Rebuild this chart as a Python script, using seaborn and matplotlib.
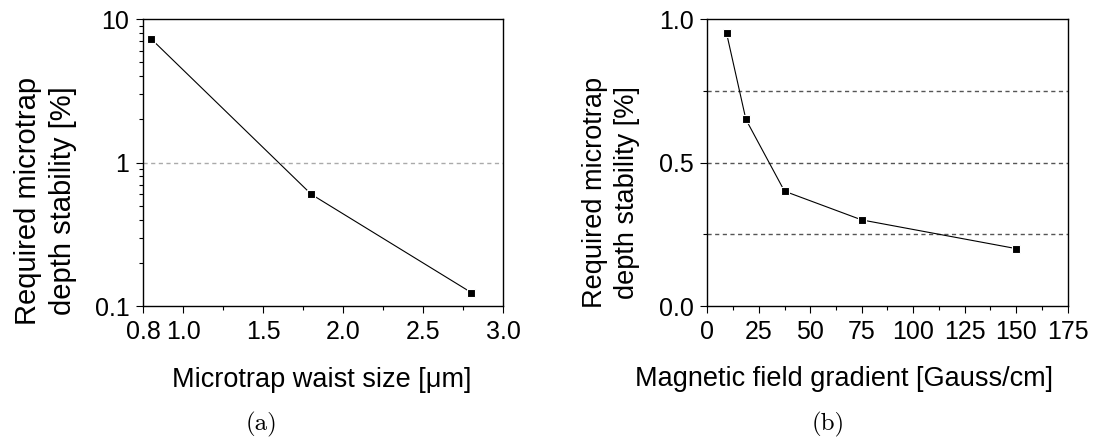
import numpy as np
import matplotlib
matplotlib.use("Agg")
import matplotlib.pyplot as plt
from matplotlib.ticker import LogLocator, NullFormatter
import seaborn as sns

# (a) required stability vs microtrap waist
waist_um = [0.8, 1.8, 2.8]
stab_a = [7.25, 0.6, 0.124]
waist_ticks = [0.75, 1.0, 1.5, 2.0, 2.5, 3.0]
waist_labels = ["0.8", "1.0", "1.5", "2.0", "2.5", "3.0"]
ref_a = [1.0]

# (b) required stability vs field gradient
gradient = [9.375, 18.75, 37.5, 75, 150]
stab_b = [0.95, 0.65, 0.40, 0.30, 0.20]
grad_ticks = [0, 25, 50, 75, 100, 125, 150, 175]
ref_b = [0.25, 0.5, 0.75]

ylabel = "Required microtrap\ndepth stability [%]"

sns.set_style("ticks")
plt.rcParams["font.family"] = ["Liberation Sans", "DejaVu Sans"]
plt.rcParams["axes.edgecolor"] = "black"
plt.rcParams["axes.labelcolor"] = "black"
plt.rcParams["text.color"] = "black"
plt.rcParams["xtick.color"] = "black"
plt.rcParams["ytick.color"] = "black"

fig = plt.figure(figsize=(11, 4.41), dpi=100)
ax1 = fig.add_axes([0.1303, 0.3061, 0.3273, 0.6508])
ax2 = fig.add_axes([0.643, 0.3061, 0.3276, 0.6508])

line_kw = dict(color="black", lw=0.8, marker="s", markersize=6.2,
               markeredgecolor="white", markeredgewidth=0.8, zorder=3)

# panel a
ax1.set_yscale("log")
for r in ref_a:
    ax1.axhline(r, color="#aaaaaa", lw=1.0, ls=(0, (3, 2.5)), zorder=1)
sns.lineplot(x=waist_um, y=stab_a, ax=ax1, **line_kw)
ax1.set_xlim(0.75, 3.0)
ax1.set_ylim(0.1, 10)
ax1.set_xticks(waist_ticks, waist_labels)
ax1.set_xticks(np.arange(1.25, 3.0, 0.5), minor=True)
ax1.set_yticks([0.1, 1, 10], ["0.1", "1", "10"])
ax1.yaxis.set_minor_locator(LogLocator(subs=np.arange(2, 10)))
ax1.yaxis.set_minor_formatter(NullFormatter())
ax1.set_xlabel("Microtrap waist size [μm]", fontsize=19.5)
ax1.set_ylabel(ylabel, fontsize=21, linespacing=1.3)
ax1.xaxis.set_label_coords(0.496, -0.212)
ax1.yaxis.set_label_coords(-0.184, 0.366)

# panel b
for r in ref_b:
    ax2.axhline(r, color="#555555", lw=1.0, ls=(0, (3, 2.5)), zorder=1)
sns.lineplot(x=gradient, y=stab_b, ax=ax2, **line_kw)
ax2.set_xlim(0, 175)
ax2.set_ylim(0, 1)
ax2.set_xticks(grad_ticks)
ax2.set_xticks(np.arange(12.5, 175, 25), minor=True)
ax2.set_yticks([0, 0.5, 1.0], ["0.0", "0.5", "1.0"])
ax2.set_yticks([0.25, 0.75], minor=True)
ax2.set_xlabel("Magnetic field gradient [Gauss/cm]", fontsize=19.5)
ax2.set_ylabel(ylabel, fontsize=19.5, linespacing=1.3)
ax2.xaxis.set_label_coords(0.379, -0.21)
ax2.yaxis.set_label_coords(-0.188, 0.397)

for ax in (ax1, ax2):
    for s in ax.spines.values():
        s.set_visible(True)
        s.set_linewidth(1.0)
    ax.tick_params(which="major", length=5, width=0.8, direction="out",
                   pad=5, labelsize=18)
    ax.tick_params(which="minor", length=3, width=0.8, direction="out")
    ax.grid(False)

fig.text(262 / 1100, 1 - 424 / 441, "(a)", ha="center", va="center",
         family="cmr10", fontsize=18)
fig.text(828 / 1100, 1 - 424 / 441, "(b)", ha="center", va="center",
         family="cmr10", fontsize=18)

fig.savefig("out.png", dpi=100)
plt.close(fig)
